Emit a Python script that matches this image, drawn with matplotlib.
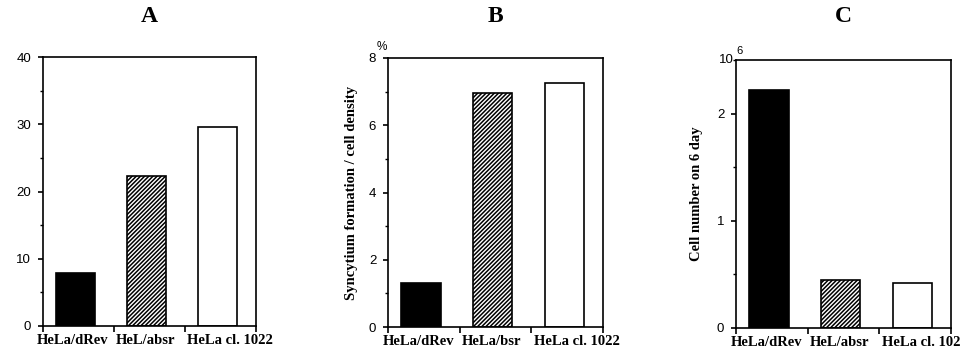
import matplotlib
matplotlib.use("Agg")
import matplotlib.pyplot as plt

# ---- data ----
labels_A = ["HeLa/dRev", "HeL/absr", "HeLa cl. 1022"]
values_A = [7.9, 22.3, 29.6]
labels_B = ["HeLa/dRev", "HeLa/bsr", "HeLa cl. 1022"]
values_B = [1.31, 6.96, 7.27]
labels_C = ["HeLa/dRev", "HeL/absr", "HeLa cl. 1022"]
values_C = [2.22, 0.45, 0.42]   # x 10^6 cells
titles = ["A", "B", "C"]

plt.rcParams['hatch.linewidth'] = 1.1
SERIF = "Liberation Serif"
SANS = "Liberation Sans"

W, H = 962, 356
fig = plt.figure(figsize=(W / 100, H / 100), dpi=100)

def make_ax(l, r, t, b):
    return fig.add_axes([l / W, (H - b) / H, (r - l) / W, (b - t) / H])

faces = ["black", "white", "white"]
hatches = [None, "////////", None]
bar_x = [0.46, 1.46, 2.46]
label_x = [0.42, 1.45, 2.63]

def style(ax, labels, values, ymax, major, minor):
    for i, v in enumerate(values):
        ax.bar(bar_x[i], v, width=0.55, color=faces[i], edgecolor="black",
               linewidth=1.2, hatch=hatches[i], zorder=2)
    ax.set_xlim(0, 3)
    ax.set_ylim(0, ymax)
    ax.set_xticks([0, 1, 2, 3])
    ax.set_xticklabels([])
    ax.set_xticks(label_x, minor=True)
    ax.set_xticklabels(labels, minor=True, fontfamily=SERIF, fontweight="bold",
                       fontsize=10.5)
    ax.tick_params(axis="x", which="minor", length=0, pad=6)
    ax.tick_params(axis="x", which="major", length=4, width=1.2, direction="out")
    ax.set_yticks(major)
    ax.set_yticks(minor, minor=True)
    ax.tick_params(axis="y", which="major", length=3.5, width=1.2, direction="out",
                   pad=5, labelsize=9.5)
    ax.tick_params(axis="y", which="minor", length=2, width=1.0, direction="out")
    for lab in ax.get_yticklabels():
        lab.set_fontfamily(SANS)
    for s in ax.spines.values():
        s.set_linewidth(1.2)

# Panel A
axA = make_ax(43, 256, 57, 326)
style(axA, labels_A, values_A, 40, [0, 10, 20, 30, 40], [5, 15, 25, 35])
# Panel B
axB = make_ax(388, 603, 58, 327)
style(axB, labels_B, values_B, 8, [0, 2, 4, 6, 8], [1, 3, 5, 7])
axB.set_ylabel("Syncytium formation / cell density", fontfamily=SERIF,
               fontweight="bold", fontsize=10.5, labelpad=8)
axB.text(-0.028, 1.02, "%", transform=axB.transAxes, ha="center", va="bottom",
         fontfamily=SANS, fontsize=8.5)
# Panel C
axC = make_ax(736, 951, 60, 328)
style(axC, labels_C, values_C, 2.5, [0, 1, 2], [0.5, 1.5, 2.5])
axC.set_ylabel("Cell number on 6 day", fontfamily=SERIF,
               fontweight="bold", fontsize=10.5, labelpad=10)
axC.text(-0.012, 1.0, "10", transform=axC.transAxes, ha="right", va="center",
         fontfamily=SANS, fontsize=9.5)
axC.text(0.0, 1.015, "6", transform=axC.transAxes, ha="left", va="bottom",
         fontfamily=SANS, fontsize=8)

for ax, t in zip([axA, axB, axC], titles):
    bb = ax.get_position()
    fig.text((bb.x0 + bb.x1) / 2, 1 - 16 / H, t, ha="center", va="center",
             fontfamily=SERIF, fontweight="bold", fontsize=17)

fig.savefig("out.png", dpi=100)
